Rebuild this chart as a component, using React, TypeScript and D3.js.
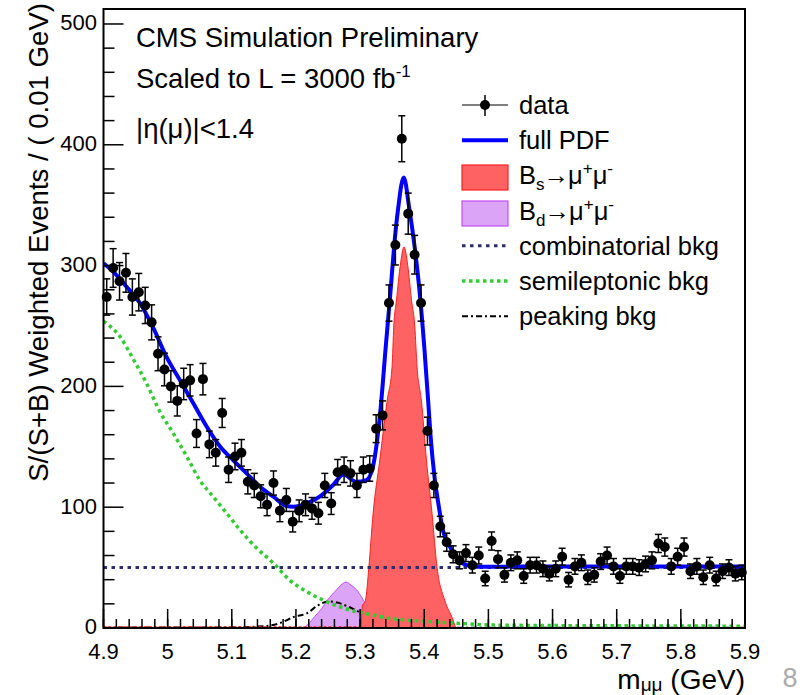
import React from 'react';
import * as d3 from 'd3';

const W = 806;
const H = 695;
const FONT = '"Liberation Sans", Arial, Helvetica, sans-serif';

// Axis definitions
const massDomain: [number, number] = [4.9, 5.9];
const binWidth = 0.01;
const yMax = 512.4;
const yMajorTicks = [0, 100, 200, 300, 400, 500];
const xMajorTicks = [4.9, 5.0, 5.1, 5.2, 5.3, 5.4, 5.5, 5.6, 5.7, 5.8, 5.9];
const xTickLabels = ['4.9', '5', '5.1', '5.2', '5.3', '5.4', '5.5', '5.6', '5.7', '5.8', '5.9'];

// Weighted events per 0.01 GeV bin, 4.90 - 5.90 GeV
const dataValues = [
  274, 298, 287, 294, 274, 278, 267, 253, 227, 214,
  200, 188, 202, 205, 161, 206, 152, 145, 178, 131,
  142, 145, 121, 118, 109, 102, 120, 97, 106, 88,
  97, 102, 99, 95, 118, 103, 129, 131, 128, 118,
  131, 132, 165, 176, 269, 317, 405, 343, 309, 269,
  163, 118, 84, 71, 61, 56, 62, 52, 60, 41,
  72, 57, 44, 54, 56, 43, 52, 52, 49, 45,
  49, 59, 40, 51, 54, 42, 44, 55, 60, 51,
  43, 51, 51, 50, 53, 56, 70, 67, 51, 59,
  67, 47, 51, 42, 52, 41, 47, 50, 45, 46,
];

const dataErrors = [
  15, 16, 15.5, 16, 15, 15.5, 15, 14.5, 14, 13.5,
  13, 12.5, 13, 13, 11.5, 13, 11, 11, 12, 10.5,
  11, 11, 10, 10, 9.5, 9, 10, 9, 9.5, 8.5,
  9, 9, 9, 9, 10, 9, 10.5, 10.5, 10.5, 10,
  10.5, 10.5, 11.5, 12, 15, 16.5, 19, 17, 16, 15,
  11.5, 10, 8.5, 7.5, 7, 7, 7, 6.5, 7, 6,
  7.5, 7, 6, 6.5, 7, 6, 6.5, 6.5, 6.5, 6,
  6.5, 7, 6, 6.5, 6.5, 6, 6, 6.5, 7, 6.5,
  6, 6.5, 6.5, 6.5, 6.5, 7, 7.5, 7.5, 6.5, 7,
  7.5, 6, 6.5, 6, 6.5, 6, 6, 6.5, 6, 6,
];

// Fit components: [mass (GeV), events]
const fullPdf: [number, number][] = [
  [4.9, 302], [4.915, 295], [4.936, 282.5], [4.957, 268.8], [4.978, 248],
  [4.998, 224.6], [5.019, 205.3], [5.04, 186], [5.061, 166.6], [5.082, 150],
  [5.102, 139], [5.123, 128], [5.144, 117], [5.165, 108.7], [5.185, 101],
  [5.196, 100.4], [5.217, 103.2], [5.237, 108.7], [5.258, 118.4], [5.274, 127],
  [5.294, 121], [5.31, 122.5], [5.32, 133.5], [5.326, 153], [5.332, 182],
  [5.34, 232.9], [5.348, 282.5], [5.353, 315.6], [5.359, 346], [5.368, 373],
  [5.377, 346], [5.385, 315.6], [5.392, 282.5], [5.4, 232.9], [5.406, 188.7],
  [5.41, 158], [5.416, 125], [5.422, 103], [5.429, 81], [5.44, 67.3],
  [5.453, 56.3], [5.466, 52], [5.481, 50.7], [5.6, 51], [5.75, 51], [5.9, 51],
];

const bsSignal: [number, number][] = [
  [5.3019, 0], [5.3034, 18], [5.3084, 23], [5.3136, 50], [5.3203, 95],
  [5.3307, 139], [5.3421, 188], [5.3498, 216], [5.3525, 250], [5.3567, 271.5],
  [5.3626, 300], [5.3685, 315.5], [5.3743, 300], [5.3801, 271.5], [5.3852, 250],
  [5.3888, 216], [5.3956, 188], [5.4034, 139], [5.4121, 95], [5.42, 50],
  [5.4319, 23], [5.4449, 6.6], [5.449, 0],
];

const bsTail: [number, number][] = [[4.9, 0.8], [5.3, 0.8]];

const bdSignal: [number, number][] = [
  [5.212, 0], [5.219, 3], [5.229, 9.4], [5.24, 16], [5.249, 23],
  [5.263, 31.5], [5.27, 35.5], [5.278, 38], [5.286, 35.5], [5.297, 30],
  [5.305, 23], [5.315, 14], [5.33, 6], [5.35, 1.5], [5.37, 0],
];

const combinatorialBkg: [number, number][] = [[4.9, 50], [5.9, 50]];

const semileptonicBkg: [number, number][] = [
  [4.9, 254], [4.926, 241], [4.946, 223], [4.967, 202.6], [4.988, 179],
  [5.009, 161], [5.03, 141.8], [5.05, 122.5], [5.071, 108.7], [5.092, 95],
  [5.113, 81.1], [5.139, 66], [5.165, 53.6], [5.19, 39.7], [5.217, 30],
  [5.242, 23.2], [5.268, 17.6], [5.294, 13.5], [5.32, 10.8], [5.346, 8],
  [5.372, 6.6], [5.45, 4], [5.5, 2.5], [5.6, 2], [5.7, 1.8], [5.9, 1.5],
];

const peakingBkg: [number, number][] = [
  [4.9, 0.3], [5.1, 0.5], [5.15, 1.5], [5.175, 4], [5.198, 9.4],
  [5.217, 12.1], [5.235, 19], [5.25, 22], [5.265, 21], [5.28, 18],
  [5.292, 15], [5.312, 9.4], [5.326, 5.5], [5.345, 3], [5.37, 1.5],
  [5.4, 0.6], [5.45, 0.3], [5.9, 0.2],
];

const legendKeys = ['data', 'pdf', 'bs', 'bd', 'comb', 'semi', 'peak'];

const RED = '#ff2020';
const RED_FILL = '#ff6262';
const VIOLET = '#c44df5';
const VIOLET_FILL = '#dba4f6';

export default function App() {
  const left = 103.5, right = 745, top = 9, bottom = 628;
  const x = d3.scaleLinear().domain(massDomain).range([left, right]);
  const y = d3.scaleLinear().domain([0, yMax]).range([bottom, top]);

  const line = d3.line<[number, number]>()
    .x(d => x(d[0])).y(d => y(d[1])).curve(d3.curveMonotoneX);
  const area = d3.area<[number, number]>()
    .x(d => x(d[0])).y0(y(0)).y1(d => y(d[1])).curve(d3.curveMonotoneX);

  const yMinor = d3.range(0, yMax, 20).filter(v => v % 100 !== 0);
  const xMinor = d3.range(0, 51).map(i => massDomain[0] + i * 0.02);

  const legX1 = 462, legX2 = 508, legText = 519;
  const legBase = (i: number) => 114 + i * 35.2;

  const small = 17;

  return (
    <svg width={W} height={H} style={{ position: 'absolute', left: 0, top: 0, background: '#fff' }}
      fontFamily={FONT}>
      <defs>
        <clipPath id="frame">
          <rect x={left} y={top} width={right - left} height={bottom - top} />
        </clipPath>
      </defs>

      <g clipPath="url(#frame)">
        {/* B_d -> mu mu */}
        <path d={area(bdSignal) || ''} fill={VIOLET_FILL} stroke={VIOLET} strokeWidth={1} />
        {/* peaking background */}
        <path d={line(peakingBkg) || ''} fill="none" stroke="#000" strokeWidth={2}
          strokeDasharray="6 3 2 3" />
        {/* B_s -> mu mu */}
        <path d={area(bsSignal) || ''} fill={RED_FILL} stroke={RED} strokeWidth={1} />
        <path d={line(bsTail) || ''} fill="none" stroke={RED} strokeWidth={1.5}
          strokeDasharray="3 2" />
        {/* combinatorial background */}
        <path d={line(combinatorialBkg) || ''} fill="none" stroke="#2e2e6e" strokeWidth={3}
          strokeDasharray="3.5 4.5" />
        {/* semileptonic background */}
        <path d={line(semileptonicBkg) || ''} fill="none" stroke="#33cc33" strokeWidth={3.5}
          strokeDasharray="3.5 3.5" />
        {/* full PDF */}
        <path d={line(fullPdf) || ''} fill="none" stroke="#0000ff" strokeWidth={4} />
      </g>

      {/* data with errors */}
      <g>
        {dataValues.map((v, i) => {
          const cx = x(massDomain[0] + (i + 0.5) * binWidth);
          const e = dataErrors[i];
          return (
            <g key={i}>
              <line x1={cx} x2={cx} y1={y(v - e)} y2={y(v + e)} stroke="#000" strokeWidth={1.5} />
              <line x1={cx - 3.5} x2={cx + 3.5} y1={y(v - e)} y2={y(v - e)} stroke="#000" strokeWidth={1.5} />
              <line x1={cx - 3.5} x2={cx + 3.5} y1={y(v + e)} y2={y(v + e)} stroke="#000" strokeWidth={1.5} />
              <circle cx={cx} cy={y(v)} r={5} fill="#000" />
            </g>
          );
        })}
      </g>

      {/* frame */}
      <rect x={left} y={top} width={right - left} height={bottom - top} fill="none"
        stroke="#000" strokeWidth={2} />

      {/* y axis ticks */}
      {yMajorTicks.map(t => (
        <g key={'ym' + t}>
          <line x1={left} x2={left + 20} y1={y(t)} y2={y(t)} stroke="#000" strokeWidth={1.5} />
          <text x={97} y={y(t)} dy="0.29em" textAnchor="end" fontSize={22} fill="#000">{t}</text>
        </g>
      ))}
      {yMinor.map(t => (
        <line key={'yn' + t} x1={left} x2={left + 11} y1={y(t)} y2={y(t)} stroke="#000" strokeWidth={1.5} />
      ))}

      {/* x axis ticks */}
      {xMajorTicks.map((t, i) => (
        <g key={'xm' + i}>
          <line x1={x(t)} x2={x(t)} y1={bottom} y2={bottom - 19} stroke="#000" strokeWidth={1.5} />
          <text x={x(t)} y={659} textAnchor="middle" fontSize={22} fill="#000">{xTickLabels[i]}</text>
        </g>
      ))}
      {xMinor.map((t, i) => (
        <line key={'xn' + i} x1={x(t)} x2={x(t)} y1={bottom} y2={bottom - 9} stroke="#000" strokeWidth={1.5} />
      ))}

      {/* axis titles */}
      <text transform="translate(47.5,3) rotate(-90)" textAnchor="end" fontSize={27.6} fill="#000">
        S/(S+B) Weighted Events / ( 0.01 GeV)
      </text>
      <text x={745} y={689} textAnchor="end" fontSize={28} fill="#000">
        m<tspan fontSize={19} dy={2}>μμ</tspan><tspan dy={-2}> (GeV)</tspan>
      </text>

      {/* header text */}
      <text x={136} y={47} fontSize={27.5} fill="#000">CMS Simulation Preliminary</text>
      <text x={136} y={88} fontSize={27.5} fill="#000">
        Scaled to L = 3000 fb<tspan fontSize={17} dy={-11}>-1</tspan>
      </text>
      <text x={136} y={138} fontSize={27.5} fill="#000">|η(μ)|&lt;1.4</text>

      {/* legend */}
      {legendKeys.map((key, i) => {
        const b = legBase(i);
        const cy = b - 9;
        let sym: React.ReactNode = null;
        let label: React.ReactNode = null;
        if (key === 'data') {
          const mx = (legX1 + legX2) / 2;
          sym = (
            <g>
              <line x1={legX1} x2={legX2} y1={cy} y2={cy} stroke="#000" strokeWidth={1.2} />
              <line x1={mx} x2={mx} y1={cy - 10} y2={cy + 11} stroke="#000" strokeWidth={1.5} />
              <circle cx={mx} cy={cy} r={5} fill="#000" />
            </g>
          );
          label = 'data';
        } else if (key === 'pdf') {
          sym = <line x1={legX1} x2={legX2} y1={cy} y2={cy} stroke="#0000ff" strokeWidth={4} />;
          label = 'full PDF';
        } else if (key === 'bs' || key === 'bd') {
          const isBs = key === 'bs';
          sym = (
            <rect x={legX1} y={Math.round(b - 19)} width={legX2 - legX1} height={25}
              fill={isBs ? RED_FILL : VIOLET_FILL}
              stroke={isBs ? RED : VIOLET} strokeWidth={1.2} />
          );
          label = (
            <>
              B<tspan fontSize={small} dy={6}>{isBs ? 's' : 'd'}</tspan>
              <tspan dy={-6} dx={-1} fontSize={25.5}>→</tspan>
              <tspan dx={-1}>μ</tspan>
              <tspan fontSize={small} dy={-10}>+</tspan>
              <tspan dy={10}>μ</tspan>
              <tspan fontSize={small} dy={-10}>-</tspan>
            </>
          );
        } else if (key === 'comb') {
          sym = <line x1={legX1} x2={legX2} y1={cy} y2={cy} stroke="#2e2e6e" strokeWidth={3} strokeDasharray="3.5 4.5" />;
          label = 'combinatorial bkg';
        } else if (key === 'semi') {
          sym = <line x1={legX1} x2={legX2} y1={cy} y2={cy} stroke="#33cc33" strokeWidth={3.5} strokeDasharray="3.5 3.5" />;
          label = 'semileptonic bkg';
        } else {
          sym = <line x1={legX1} x2={legX2} y1={cy} y2={cy} stroke="#000" strokeWidth={2} strokeDasharray="6 3 2 3" />;
          label = 'peaking bkg';
        }
        return (
          <g key={key}>
            {sym}
            <text x={legText} y={b} fontSize={25.5} fill="#000">{label}</text>
          </g>
        );
      })}

      {/* page number */}
      <text x={790} y={687} textAnchor="middle" fontSize={27} fill="#aaaaaa">8</text>
    </svg>
  );
}
